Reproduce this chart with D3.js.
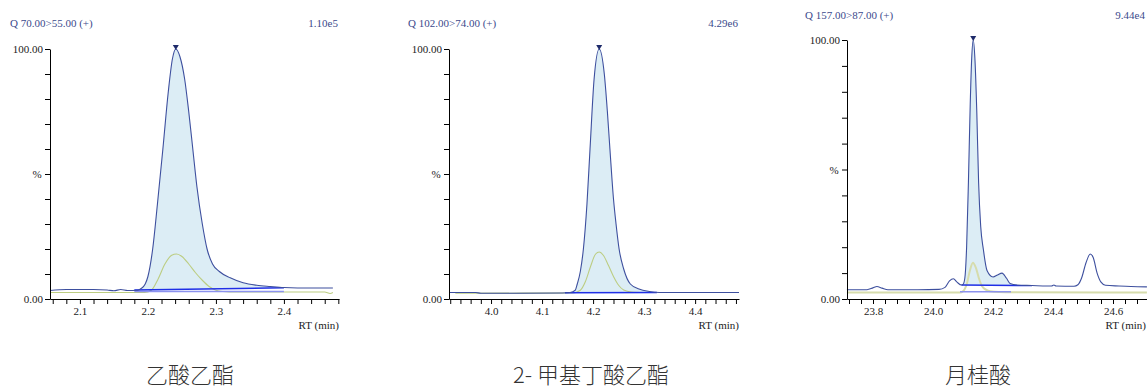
<!DOCTYPE html>
<html>
<head>
<meta charset="utf-8">
<script src="https://cdn.jsdelivr.net/npm/d3@7"></script>
<style>
  body { margin: 0; background: #fff; }
  svg { display: block; }
  .tick text { font-family: "Liberation Serif", "Times New Roman", Times, serif; font-size: 11px; fill: #222; }
  .title { font-family: "Liberation Serif", "Times New Roman", Times, serif; font-size: 11px; fill: #3b4a8c; }
  .axislabel { font-family: "Liberation Serif", "Times New Roman", Times, serif; font-size: 11px; fill: #222; }
  .name { font-family: "Noto Sans CJK SC", sans-serif; font-size: 22px; font-weight: 300; fill: #333; }
</style>
</head>
<body>
<script>
'use strict';

// chart texts
var titles = ['Q 70.00>55.00 (+)', 'Q 102.00>74.00 (+)', 'Q 157.00>87.00 (+)'];
var maxima = ['1.10e5', '4.29e6', '9.44e4'];
var names = ['乙酸乙酯', '2- 甲基丁酸乙酯', '月桂酸'];

// x axis label ticks per panel
var xLabels1 = [2.1, 2.2, 2.3, 2.4];
var xLabels2 = [4.0, 4.1, 4.2, 4.3, 4.4];
var xLabels3 = [23.8, 24.0, 24.2, 24.4, 24.6];

// retention time (min), intensity (%)
var trace1 = [[2.056,3.4],[2.08,3.8],[2.10,3.8],[2.12,3.8],[2.14,3.6],[2.15,3.3],[2.16,3.8],[2.17,3.4],
  [2.185,3.5],[2.19,4.2],[2.196,6],[2.20,9],[2.207,20],[2.214,38],[2.222,60],[2.23,83],[2.236,96],
  [2.241,100],[2.247,97],[2.254,88],[2.26,75],[2.266,60],[2.272,45],[2.28,30],[2.287,20],[2.295,14],
  [2.305,11],[2.321,8.5],[2.34,6.5],[2.36,5.5],[2.38,5],[2.40,4.6],[2.44,4.4],[2.472,4.4]];
var ion1 = [[2.056,2.6],[2.195,2.6],[2.205,3.5],[2.215,8],[2.225,14],[2.235,17.5],[2.242,18],[2.25,17],
  [2.26,14],[2.27,10.5],[2.28,7.5],[2.29,5],[2.30,3.5],[2.31,3],[2.33,2.8],[2.46,2.8],[2.468,2.2],[2.472,2.6]];
var base1 = [[2.18,3.6],[2.40,4.5]];
var base1b = [[2.18,3.0],[2.40,3.0]];

var trace2 = [[3.918,2.6],[3.97,2.6],[3.98,2.3],[4.05,2.3],[4.14,2.4],[4.155,2.6],[4.165,3.5],[4.169,6],
  [4.175,11],[4.181,20],[4.188,38],[4.194,60],[4.202,88],[4.212,100],[4.222,90],[4.228,75],[4.233,60],
  [4.24,40],[4.245,30],[4.251,20],[4.26,12],[4.273,6],[4.29,4],[4.31,3],[4.33,2.6],[4.40,2.6],[4.486,2.6]];
var ion2 = [[3.93,2.3],[4.16,2.4],[4.175,3.5],[4.185,7],[4.195,13],[4.205,18],[4.212,18.8],[4.22,17.5],
  [4.23,13.5],[4.24,9],[4.25,5.5],[4.26,3.6],[4.275,2.8],[4.30,2.6]];
var base2 = [[4.145,2.5],[4.325,2.6]];

var trace3 = [[23.713,3.6],[23.78,3.6],[23.80,4.3],[23.813,4.8],[23.83,4.2],[23.85,3.6],[23.95,3.6],
  [24.02,3.7],[24.04,4.5],[24.055,7],[24.068,7.8],[24.08,6.5],[24.095,5.4],[24.10,5.6],[24.106,8],
  [24.112,20],[24.118,45],[24.124,75],[24.129,93],[24.134,100],[24.14,92],[24.146,72],[24.152,45],
  [24.159,28],[24.168,19],[24.18,11],[24.2,8.5],[24.215,9.3],[24.23,10],[24.245,8],[24.257,6],
  [24.28,5.4],[24.33,5.2],[24.38,5.0],[24.395,5.0],[24.403,5.4],[24.41,5.0],[24.47,4.9],[24.483,5.5],
  [24.495,8],[24.51,14],[24.524,17.4],[24.534,16],[24.547,10],[24.56,6.5],[24.575,5.3],[24.62,5.0],
  [24.66,4.8],[24.713,4.7]];
var ion3 = [[23.713,2.5],[24.09,2.5],[24.1,3],[24.113,6],[24.123,11],[24.133,14],[24.143,12],[24.153,8],
  [24.163,5],[24.178,3.5],[24.19,3],[24.22,2.7],[24.27,2.6],[24.713,2.5]];
var base3 = [[24.095,5.4],[24.33,5.2]];
var base3b = [[24.09,2.8],[24.26,2.8]];

var panels = [
  {left: 50, right: 339, top: 49, bottom: 299, domain: [2.056, 2.481], step: 0.02, labels: xLabels1,
   trace: trace1, ion: ion1, base: base1, base2: base1b, apex: 2.241, titleY: 27, titleX: 10, nameX: 190},
  {left: 449, right: 739, top: 49, bottom: 299, domain: [3.9176, 4.486], step: 0.02, labels: xLabels2,
   trace: trace2, ion: ion2, base: base2, base2: null, apex: 4.212, titleY: 27, titleX: 408, nameX: 591},
  {left: 847, right: 1147, top: 40, bottom: 299, domain: [23.7133, 24.7133], step: 0.04, labels: xLabels3,
   trace: trace3, ion: ion3, base: base3, base2: base3b, apex: 24.134, titleY: 19, titleX: 805, nameX: 978}
];

var svg = d3.select('body').append('svg')
  .attr('width', 1147)
  .attr('height', 389);

panels.forEach(function(p, i) { drawPanel(p, i); });

function drawPanel(p, i) {
  var x = d3.scaleLinear().domain(p.domain).range([p.left, p.right]);
  var y = d3.scaleLinear().domain([0, 100]).range([p.bottom, p.top]);
  var g = svg.append('g');

  // shaded area between trace and integration baseline
  var b0 = p.base[0], b1 = p.base[1];
  function baseAt(t) { return b0[1] + (b1[1] - b0[1]) * (t - b0[0]) / (b1[0] - b0[0]); }
  var inside = p.trace.filter(function(d) { return d[0] > b0[0] && d[0] < b1[0]; });
  var areaPts = [[b0[0], baseAt(b0[0])]].concat(inside).concat([[b1[0], baseAt(b1[0])]]);
  g.append('path')
    .datum(areaPts)
    .attr('fill', '#dcedf5')
    .attr('d', d3.area()
      .x(function(d) { return x(d[0]); })
      .y0(function(d) { return y(baseAt(d[0])); })
      .y1(function(d) { return y(d[1]); })
      .curve(d3.curveMonotoneX));

  var line = d3.line()
    .x(function(d) { return x(d[0]); })
    .y(function(d) { return y(d[1]); })
    .curve(d3.curveMonotoneX);
  var straight = d3.line()
    .x(function(d) { return x(d[0]); })
    .y(function(d) { return y(d[1]); });

  // qualifier ion trace
  g.append('path').datum(p.ion)
    .attr('fill', 'none').attr('stroke', i == 2 ? '#d6dcac' : '#bccd82')
    .attr('stroke-width', i == 2 ? 2 : 1.1)
    .attr('d', line);

  // integration baselines
  if (p.base2) {
    g.append('path').datum(p.base2)
      .attr('fill', 'none').attr('stroke', '#8c92ee').attr('stroke-width', 1.5)
      .attr('d', straight);
  }
  g.append('path').datum(p.base)
    .attr('fill', 'none').attr('stroke', '#1f2fe6').attr('stroke-width', 1.5)
    .attr('d', straight);

  // main trace
  g.append('path').datum(p.trace)
    .attr('fill', 'none').attr('stroke', '#3d4f9e').attr('stroke-width', 1.1)
    .attr('d', line);

  // apex marker
  var ax = x(p.apex), ay = y(100);
  g.append('path')
    .attr('d', 'M' + (ax - 3) + ',' + (ay - 4) + 'L' + (ax + 3) + ',' + (ay - 4) + 'L' + ax + ',' + (ay + 1) + 'Z')
    .attr('fill', '#1e2a6a');

  // y axis
  var yAxis = g.append('g')
    .attr('transform', 'translate(' + p.left + ',0)')
    .call(d3.axisLeft(y).tickValues(d3.range(0, 101, 10)).tickSize(5).tickSizeOuter(0)
      .tickFormat(function(d) { return (d == 0 || d == 100) ? d.toFixed(2) : ''; }));
  yAxis.attr('font-family', null);
  yAxis.select('.domain').attr('stroke', '#000');
  yAxis.selectAll('.tick line').attr('stroke', '#000');
  yAxis.selectAll('.tick text').attr('x', -7);

  // x axis
  var ticks = d3.range(Math.ceil(p.domain[0] / p.step - 1e-6), Math.floor(p.domain[1] / p.step + 1e-6) + 1)
    .map(function(k) { return +(k * p.step).toFixed(2); });
  var xAxis = g.append('g')
    .attr('transform', 'translate(0,' + p.bottom + ')')
    .call(d3.axisBottom(x).tickValues(ticks).tickSize(5).tickSizeOuter(0)
      .tickFormat(function(d) {
        return p.labels.some(function(l) { return Math.abs(l - d) < 1e-6; }) ? d.toFixed(1) : '';
      }));
  xAxis.attr('font-family', null);
  xAxis.select('.domain').attr('stroke', '#000');
  xAxis.selectAll('.tick line').attr('stroke', '#000');
  xAxis.selectAll('.tick text').attr('y', 8);

  // texts
  g.append('text').attr('class', 'title')
    .attr('x', p.titleX).attr('y', p.titleY).text(titles[i]);
  g.append('text').attr('class', 'title')
    .attr('x', Math.min(p.right - 1, 1145)).attr('y', p.titleY)
    .attr('text-anchor', 'end').text(maxima[i]);
  g.append('text').attr('class', 'axislabel')
    .attr('x', p.left - 13).attr('y', y(50) + 4)
    .attr('text-anchor', 'middle').text('%');
  g.append('text').attr('class', 'axislabel')
    .attr('x', Math.min(p.right, 1146)).attr('y', p.bottom + 30)
    .attr('text-anchor', 'end').text('RT (min)');
  g.append('text').attr('class', 'name')
    .attr('x', p.nameX).attr('y', 383)
    .attr('text-anchor', 'middle').text(names[i]);
}
</script>
</body>
</html>
